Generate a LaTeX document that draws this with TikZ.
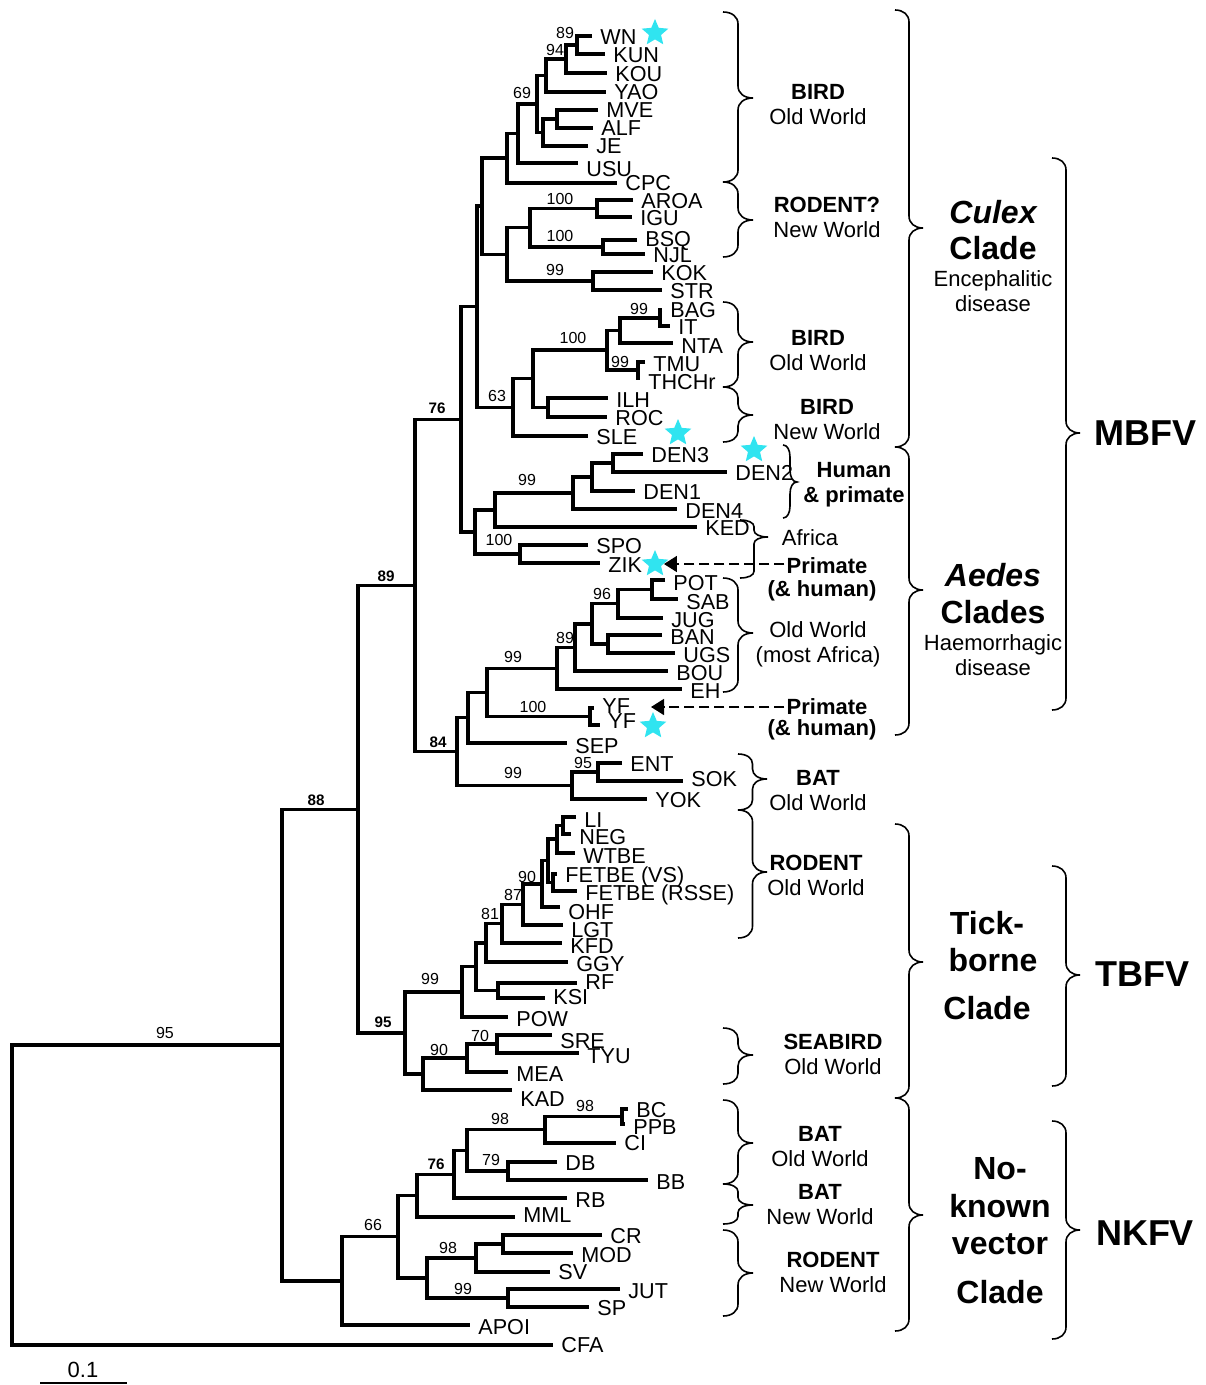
\documentclass[tikz,border=0pt]{standalone}
\usepackage{fontspec}
\setmainfont{Liberation Sans}
\usetikzlibrary{arrows.meta}
\usetikzlibrary{shapes.geometric}
\usetikzlibrary{positioning}
\definecolor{starcyan}{RGB}{48,228,240}
\tikzset{
  treeline/.style = {line width = 1.6pt},
  taxon/.style = {anchor = west, inner xsep = 4pt, inner ysep = 0, text height = 7.7pt, text depth = 0pt, font = \fontsize{10.8}{12}\selectfont},
  bsup/.style = {inner sep = 0, text height = 5.7pt, text depth = 0pt, font = \fontsize{8}{9}\selectfont},
  bsupb/.style = {bsup, font = \fontsize{7.6}{9}\selectfont\bfseries},
  grp/.style = {align = center, inner sep = 1pt, font = \fontsize{11}{12.5}\selectfont},
  grpb/.style = {grp, font = \fontsize{11}{12.5}\selectfont\bfseries},
  clade/.style = {inner sep = 1pt, text height = 11.5pt, text depth = 0pt, font = \fontsize{16}{18}\selectfont\bfseries},
  virus/.style = {inner sep = 1pt, text height = 13pt, text depth = 0pt, font = \fontsize{18}{20}\selectfont\bfseries},
  bracestyle/.style = {line width = 0.8pt},
  hoststar/.style = {star, star points = 5, star point ratio = 2.2, minimum size = 14pt, inner sep = 0, fill = starcyan},
  dasharrow/.style = {line width = 0.8pt, dash pattern = on 5pt off 2.5pt, -{Triangle[length = 6.5pt, width = 8pt]}}
}
\newcommand\grpbrace[5]{%
  \pgfmathsetmacro\brcurl{min(12,(#3-#2)/2.5,(#4-#3)/2.5)}%
  \draw[bracestyle] (#1,#2)
    .. controls (#1+0.3*#5,#2) and (#1+0.5*#5,#2+0.4*\brcurl) .. (#1+0.5*#5,#2+\brcurl)
    -- (#1+0.5*#5,#3-\brcurl)
    .. controls (#1+0.5*#5,#3-0.4*\brcurl) and (#1+0.7*#5,#3) .. (#1+#5,#3)
    .. controls (#1+0.7*#5,#3) and (#1+0.5*#5,#3+0.4*\brcurl) .. (#1+0.5*#5,#3+\brcurl)
    -- (#1+0.5*#5,#4-\brcurl)
    .. controls (#1+0.5*#5,#4-0.4*\brcurl) and (#1+0.3*#5,#4) .. (#1,#4);}

\begin{document}
\begin{tikzpicture}[x = 0.5pt, y = -0.5pt]
  \useasboundingbox (0,0) rectangle (1205,1385);

  % tips
  \foreach \nm/\x/\y/\dy/\lab in {WN/592/36/1/WN, KUN/605/54/1/KUN, KOU/607/73/1/KOU, YAO/606/92/0/YAO,
      MVE/598/110/0/MVE, ALF/593/128/0/ALF, JE/588/146/0/JE, USU/578/163/6/USU, CPC/617/183/0/CPC,
      AROA/633/200/1/AROA, IGU/632/217/1/IGU, BSQ/637/240/-1/BSQ, NJL/645/254/1/NJL, KOK/653/272/1/KOK,
      STR/662/290/1/STR, BAG/662/310/0/BAG, IT/670/326/1/IT, NTA/673/343/3/NTA, TMU/645/362/2/TMU,
      THC/640/378/4/THCHr, ILH/608/398/2/ILH, ROC/607/417/1/ROC, SLE/588/436/1/SLE,
      DENc/643/454/1/DEN3, DENb/727/472/1/DEN2, DENa/635/491/1/DEN1, DENd/677/509/2/DEN4,
      KED/697/527/1/KED, SPO/588/545/1/SPO, ZIK/600/563/2/ZIK, POT/665/580/3/POT, SAB/678/599/3/SAB,
      JUG/663/618/2/JUG, BAN/662/635/2/BAN, UGS/675/653/2/UGS, BOU/668/671/2/BOU, EH/682/689/2/EH,
      YFa/594/708/-2/YF, YFb/600/725/-4/YF, SEP/567/743/3/SEP, ENT/622/763/1/ENT, SOK/683/781/-2/SOK,
      YOK/647/799/1/YOK, LI/576/817/3/LI, NEG/571/834/3/NEG, WTBE/575/853/3/WTBE,
      FVS/557/874/1/FETBE (VS), FRS/577/891/2/FETBE (RSSE), OHF/560/907/5/OHF, LGT/563/925/5/LGT,
      KFD/562/943/3/KFD, GGY/568/962/2/GGY, RF/577/983/-1/RF, KSI/545/998/-1/KSI, POW/508/1017/2/POW,
      SRE/552/1035/6/SRE, TYU/579/1053/3/TYU, MEA/508/1072/2/MEA, KAD/512/1090/9/KAD,
      BC/628/1109/1/BC, PPB/625/1124/3/PPB, CI/616/1143/0/CI, DB/557/1162/1/DB, BB/648/1180/2/BB,
      RB/567/1198/2/RB, MML/515/1217/-2/MML, CR/602/1235/1/CR, MOD/573/1253/2/MOD, SV/550/1272/0/SV,
      JUT/620/1289/2/JUT, SP/589/1307/1/SP, APOI/470/1325/2/APOI, CFA/553/1345/0/CFA}
  {
    \coordinate (t\nm) at (\x,\y);
    \node[taxon] (l\nm) at (\x,\y+\dy) {\lab};
  }

  % internal nodes
  \foreach \nm/\x/\y in {aWK/577/45, aWKK/566/59, aWKKY/546/75.5, aMA/557/119, aMAJ/543/132.5,
      aJEV/537/104, a69/518/133.5, aCPC/507/158, aAI/597/208.5, aBN/603/247, aRodA/530/227.75,
      aKS/593/281, aRodB/507/254.4, aCuA/482/206, aBI/660/318, aBIN/620/330.5, aTT/638/370,
      aBd100/607/350, aIR/548/407.5, aBdB/533/378.75, a63/513/407.4, aCulex/477/306.7,
      aDcb/613/463, aDcba/592/477, aDen/573/493, aDK/495/510, aSZ/520/554, aDKSZ/475/532,
      a76/461/419.4, aPS/652/589.5, aPSJ/618/603.75, aBU/608/644, aPB/592/623.9, aOW/575/647.4,
      aEH/557/668.2, aYF/590/716.5, aYFEH/487/692.3, aSEP/468/717.7, aES/598/772, aBat/572/785.5,
      a84/457/751.6, aMB/415/585.5, aLN/563/825.5, aLNW/557/839, aFE/553/882.5, aLF/548/860.75,
      aOHF/542/884, aLGT/523/904.5, aKFD/502/923.75, aGGY/486/943, aRK/498/990.5, aTR/476/966.75,
      aPOW/462/991.9, aST/497/1044, aMEA/467/1058, aKAD/423/1074, aTB/405/1033, aMT/358/809.2,
      aBP/622/1116.5, aBPC/545/1129.75, aDBB/508/1171, aBatO/467/1150.4, aRB/454/1174.2,
      aMML/417/1195.6, aCM/503/1244, aCMS/476/1258, aJS/508/1298, aRodN/427/1278, a66/398/1236.8,
      aNK/342/1280.9, a88/282/1045, aRoot/12/1195}
    \coordinate (\nm) at (\x,\y);

  % branches
  \foreach \pn/\ca/\cb in {aWK/tWN/tKUN, aWKK/aWK/tKOU, aWKKY/aWKK/tYAO, aMA/tMVE/tALF, aMAJ/aMA/tJE,
      aJEV/aWKKY/aMAJ, a69/aJEV/tUSU, aCPC/a69/tCPC, aAI/tAROA/tIGU, aBN/tBSQ/tNJL, aRodA/aAI/aBN,
      aKS/tKOK/tSTR, aRodB/aRodA/aKS, aCuA/aCPC/aRodB, aBI/tBAG/tIT, aBIN/aBI/tNTA, aTT/tTMU/tTHC,
      aBd100/aBIN/aTT, aIR/tILH/tROC, aBdB/aBd100/aIR, a63/aBdB/tSLE, aCulex/aCuA/a63,
      aDcb/tDENc/tDENb, aDcba/aDcb/tDENa, aDen/aDcba/tDENd, aDK/aDen/tKED, aSZ/tSPO/tZIK,
      aDKSZ/aDK/aSZ, a76/aCulex/aDKSZ, aPS/tPOT/tSAB, aPSJ/aPS/tJUG, aBU/tBAN/tUGS, aPB/aPSJ/aBU,
      aOW/aPB/tBOU, aEH/aOW/tEH, aYF/tYFa/tYFb, aYFEH/aEH/aYF, aSEP/aYFEH/tSEP, aES/tENT/tSOK,
      aBat/aES/tYOK, a84/aSEP/aBat, aMB/a76/a84, aLN/tLI/tNEG, aLNW/aLN/tWTBE, aFE/tFVS/tFRS,
      aLF/aLNW/aFE, aOHF/aLF/tOHF, aLGT/aOHF/tLGT, aKFD/aLGT/tKFD, aGGY/aKFD/tGGY, aRK/tRF/tKSI,
      aTR/aGGY/aRK, aPOW/aTR/tPOW, aST/tSRE/tTYU, aMEA/aST/tMEA, aKAD/aMEA/tKAD, aTB/aPOW/aKAD,
      aMT/aMB/aTB, aBP/tBC/tPPB, aBPC/aBP/tCI, aDBB/tDB/tBB, aBatO/aBPC/aDBB, aRB/aBatO/tRB,
      aMML/aRB/tMML, aCM/tCR/tMOD, aCMS/aCM/tSV, aJS/tJUT/tSP, aRodN/aCMS/aJS, a66/aMML/aRodN,
      aNK/a66/tAPOI, a88/aMT/aNK, aRoot/a88/tCFA}
    \draw[treeline] (\ca) -| (\pn) |- (\cb);

  % bootstrap values
  \foreach \x/\y/\v [count = \i] in {565/33/89, 555/50/94, 522/93/69, 560/199/100, 560/236/100,
      555/270/99, 639/309/99, 573/338/100, 620/362/99, 497/396/63, 527/480/99, 499/540/100,
      602/594/96, 565/638/89, 513/657/99, 533/707/100, 583/763/95, 513/773/99, 527/877/90,
      513/895/87, 490/914/81, 430/979/99, 480/1036/70, 439/1050/90, 585/1106/98, 500/1119/98,
      491/1160/79, 373/1225/66, 448/1248/98, 463/1289/99, 165/1033/95}
    \node[bsup] (bs\i) at (\x,\y) {\v};
  \foreach \x/\y/\v [count = \i] in {437/408/76, 438/742/84, 386/576/89, 316/800/88, 383/1022/95, 436/1164/76}
    \node[bsupb] (bsb\i) at (\x,\y) {\v};

  % hosts
  \grpbrace{723}{12}{98}{182}{30}
  \grpbrace{723}{182}{220}{257}{30}
  \grpbrace{723}{302}{342}{387}{30}
  \grpbrace{723}{387}{415}{442}{30}
  \grpbrace{783}{445}{482}{518}{14}
  \grpbrace{740}{520}{537}{578}{28}
  \grpbrace{723}{578}{633}{692}{30}
  \grpbrace{738}{754}{779}{810}{29}
  \grpbrace{738}{810}{872}{938}{29}
  \grpbrace{723}{1028}{1055}{1084}{30}
  \grpbrace{723}{1100}{1143}{1184}{30}
  \grpbrace{723}{1184}{1205}{1224}{30}
  \grpbrace{723}{1230}{1273}{1316}{30}
  \node[grp] (hBirdA) at (818,104.5) {\textbf{BIRD}\\Old World};
  \node[grp] (hRodA) at (827,217.5) {\textbf{RODENT?}\\New World};
  \node[grp] (hBirdB) at (818,350.5) {\textbf{BIRD}\\Old World};
  \node[grp] (hBirdC) at (827,420) {\textbf{BIRD}\\New World};
  \node[grpb] (hHuman) at (854,485) {Human\\\& primate};
  \node[grp] (hAfrica) at (810,538) {Africa};
  \node[grpb] (hPrimA) at (827,566) {Primate};
  \node[grpb] (hPrimAh) at (822,591) {(\& human)};
  \node[grp] (hOWAf) at (818,644) {Old World\\(most Africa)};
  \node[grpb] (hPrimB) at (827,707) {Primate};
  \node[grpb] (hPrimBh) at (822,730) {(\& human)};
  \node[grp] (hBatA) at (818,790.5) {\textbf{BAT}\\Old World};
  \node[grp] (hRodB) at (816,875.5) {\textbf{RODENT}\\Old World};
  \node[grp] (hSea) at (833,1054.5) {\textbf{SEABIRD}\\Old World};
  \node[grp] (hBatB) at (820,1146.5) {\textbf{BAT}\\Old World};
  \node[grp] (hBatC) at (820,1204.5) {\textbf{BAT}\\New World};
  \node[grp] (hRodC) at (833,1272.5) {\textbf{RODENT}\\New World};

  % clades
  \grpbrace{895}{10}{228}{447}{28}
  \grpbrace{895}{447}{590}{735}{28}
  \grpbrace{895}{824}{962}{1098}{28}
  \grpbrace{895}{1098}{1215}{1331}{28}
  \node[clade] (cCulex) at (993,212) {\itshape Culex};
  \node[clade] (cCulexB) at (993,248) {Clade};
  \node[grp] (cEnc) at (993,291.5) {Encephalitic\\disease};
  \node[clade] (cAedes) at (993,575) {\itshape Aedes};
  \node[clade] (cAedesB) at (993,612) {Clades};
  \node[grp] (cHaem) at (993,655.5) {Haemorrhagic\\disease};
  \node[clade] (cTick) at (987,923) {Tick-};
  \node[clade] (cBorne) at (993,960) {borne};
  \node[clade] (cTickC) at (987,1008) {Clade};
  \node[clade] (cNo) at (1000,1168) {No-};
  \node[clade] (cKnown) at (1000,1206) {known};
  \node[clade] (cVector) at (1000,1243) {vector};
  \node[clade] (cNoC) at (1000,1292) {Clade};

  \grpbrace{1052}{158}{433}{710}{28}
  \grpbrace{1052}{866}{975}{1086}{28}
  \grpbrace{1052}{1121}{1230}{1339}{28}
  \node[virus] (vMBFV) at (1145,432) {MBFV};
  \node[virus] (vTBFV) at (1142,973) {TBFV};
  \node[virus] (vNKFV) at (1145,1232) {NKFV};

  % stars and arrows
  \node[hoststar] (sWN) at (655,33) {};
  \node[hoststar] (sSLE) at (678,433) {};
  \node[hoststar] (sDEN) at (754,450) {};
  \node[hoststar] (sZIK) at (655,564) {};
  \node[hoststar] (sYF) at (653,726) {};
  \coordinate (cYF) at (651,707);
  \draw[dasharrow] (hPrimA.west |- sZIK.east) -- (sZIK.east);
  \draw[dasharrow] (hPrimB.west) -- (cYF);

  % scale
  \coordinate (sbA) at (40,1383);
  \coordinate (sbB) at (127,1383);
  \draw[line width = 1pt] (sbA) -- (sbB);
  \node[grp] (sbLab) at (83,1370) {0.1};
\end{tikzpicture}
\end{document}
